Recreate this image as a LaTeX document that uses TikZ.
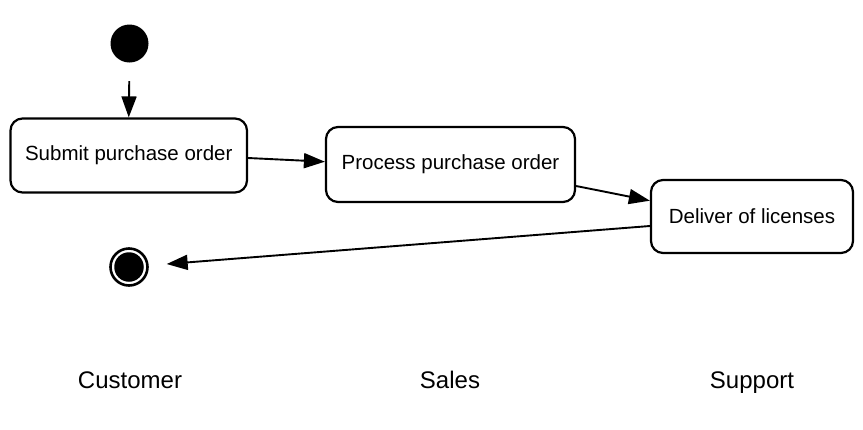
\documentclass[tikz,border=0pt]{standalone}
\usepackage{fontspec}
\setmainfont{Liberation Sans}
\usetikzlibrary{arrows.meta}
\begin{document}
\begin{tikzpicture}[x=1pt,y=-1pt,
  actbox/.style={draw=black, line width=2.2pt, rounded corners=12pt, inner sep=0pt,
    font=\fontsize{20.5}{24}\selectfont},
  flow/.style={line width=1.9pt, -{Triangle[length=21pt,width=15pt]}},
  lane/.style={anchor=base, font=\fontsize{24}{28}\selectfont}]
\useasboundingbox (0,0) rectangle (863,429);
\node[circle, fill=black, minimum size=38pt, inner sep=0pt] (init) at (129.5,43.5) {};
\node[actbox, minimum width=236.5pt, minimum height=74pt] (b1) at (128.75,155.5) {Submit purchase order};
\node[actbox, minimum width=249pt, minimum height=75pt] (b2) at (450.5,164.5) {Process purchase order};
\node[actbox, minimum width=202pt, minimum height=73pt] (b3) at (752,216.5) {Deliver of licenses};
\node[circle, draw=black, line width=2.6pt, minimum size=37pt, inner sep=0pt] (final) at (129,267) {};
\node[circle, fill=black, minimum size=29.5pt, inner sep=0pt] (finalin) at (final.center) {};
\draw[flow, shorten <=18.5pt] (init.south) -- (b1.north);
\draw[flow] ([yshift=-2.5pt]b1.east) -- ([yshift=2.8pt]b2.west);
\draw[flow] ([yshift=-21.5pt]b2.east) -- ([yshift=15.8pt]b3.west);
\draw[flow, shorten >=18pt] ([yshift=-9.5pt]b3.west) -- (final);
\node[lane] (l1) at (130,388) {Customer};
\node[lane] (l2) at (450,388) {Sales};
\node[lane] (l3) at (752,388) {Support};
\end{tikzpicture}
\end{document}
